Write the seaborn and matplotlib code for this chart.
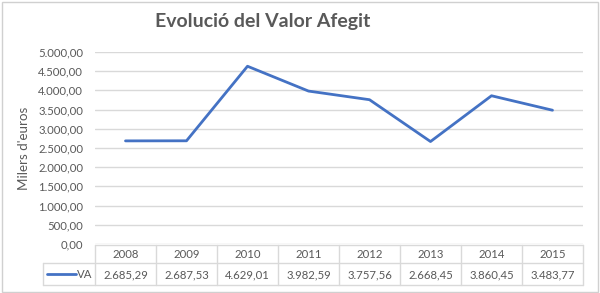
import matplotlib
matplotlib.use("Agg")
import matplotlib.pyplot as plt
import seaborn as sns
import pandas as pd
from matplotlib.lines import Line2D
from matplotlib.patches import Rectangle

years = ["2008", "2009", "2010", "2011", "2012", "2013", "2014", "2015"]
va_values = [2685.29, 2687.53, 4629.01, 3982.59, 3757.56, 2668.45, 3860.45, 3483.77]
series_name = "VA"
title = "Evolució del Valor Afegit"
ylabel = "Milers d'euros"
yticks = [0, 500, 1000, 1500, 2000, 2500, 3000, 3500, 4000, 4500, 5000]

def fmt(v):
    s = f"{v:,.2f}"
    return s.replace(",", "X").replace(".", ",").replace("X", ".")

sns.set_theme(style="white")
plt.rcParams["font.family"] = ["Lato", "DejaVu Sans"]

W, H = 600, 293
fig = plt.figure(figsize=(W / 100, H / 100), dpi=100)

def fx(x):
    return x / W

def fy(y):
    return 1 - y / H

grey_text = "#595959"
grid_c = "#D9D9D9"
line_c = "#4472C4"
fs = 8.2

# outer border
fig.patches.append(Rectangle((fx(1.5), fy(291.5)), fx(596), 1 - fy(289.5),
                             transform=fig.transFigure, fill=False,
                             edgecolor="#D0D0D0", linewidth=1.0))

left, right, top, bottom = 95, 583, 52, 244
ax = fig.add_axes([fx(left), fy(bottom), fx(right - left), fy(top) - fy(bottom)])

df = pd.DataFrame({"x": [i + 0.5 for i in range(len(years))], "VA": va_values})
sns.lineplot(data=df, x="x", y="VA", ax=ax, color=line_c, linewidth=2.0,
             clip_on=False)

ax.set_xlim(0, len(years))
ax.set_ylim(0, 5000)
ax.set_yticks(yticks)
ax.set_yticklabels([fmt(v) for v in yticks], color=grey_text, fontsize=fs)
ax.set_xticks([])
ax.set_xlabel("")
ax.set_ylabel("")
ax.tick_params(axis="y", length=0, pad=8.6)
for sp in ax.spines.values():
    sp.set_visible(False)
ax.grid(axis="y", color=grid_c, linewidth=1.0)
ax.set_axisbelow(True)

fig.text(fx(263), fy(22), title, ha="center", va="center", fontsize=14,
         fontweight="bold", color=grey_text)
fig.text(fx(24), fy(148), ylabel, ha="center", va="center", rotation=90,
         fontsize=9.6, color=grey_text)

# data table
n = len(years)
colw = (right - left) / n
row1_top, row1_bot, row2_bot = 245, 263, 285
tab_left = 43

def hline(x0, x1, y):
    fig.lines.append(Line2D([fx(x0), fx(x1)], [fy(y), fy(y)],
                            transform=fig.transFigure, color=grid_c, linewidth=1.0))

def vline(x, y0, y1):
    fig.lines.append(Line2D([fx(x), fx(x)], [fy(y0), fy(y1)],
                            transform=fig.transFigure, color=grid_c, linewidth=1.0))

hline(left, right, row1_top)
hline(tab_left, right, row1_bot)
hline(tab_left, right, row2_bot)
vline(tab_left, row1_bot, row2_bot)
for i in range(n + 1):
    vline(left + i * colw, row1_top, row2_bot)
for i, (yr, v) in enumerate(zip(years, va_values)):
    cx = left + (i + 0.5) * colw
    fig.text(fx(cx), fy((row1_top + row1_bot) / 2 + 0.5), yr, ha="center",
             va="center", fontsize=fs, color=grey_text)
    fig.text(fx(cx), fy((row1_bot + row2_bot) / 2 + 0.5), fmt(v), ha="center",
             va="center", fontsize=fs, color=grey_text)

ly = (row1_bot + row2_bot) / 2
fig.lines.append(Line2D([fx(47), fx(76)], [fy(ly), fy(ly)],
                        transform=fig.transFigure, color=line_c, linewidth=2.0))
fig.text(fx(77), fy(ly + 0.5), series_name, ha="left", va="center",
         fontsize=fs, color=grey_text)

fig.savefig("out.png", dpi=100, facecolor="white")
